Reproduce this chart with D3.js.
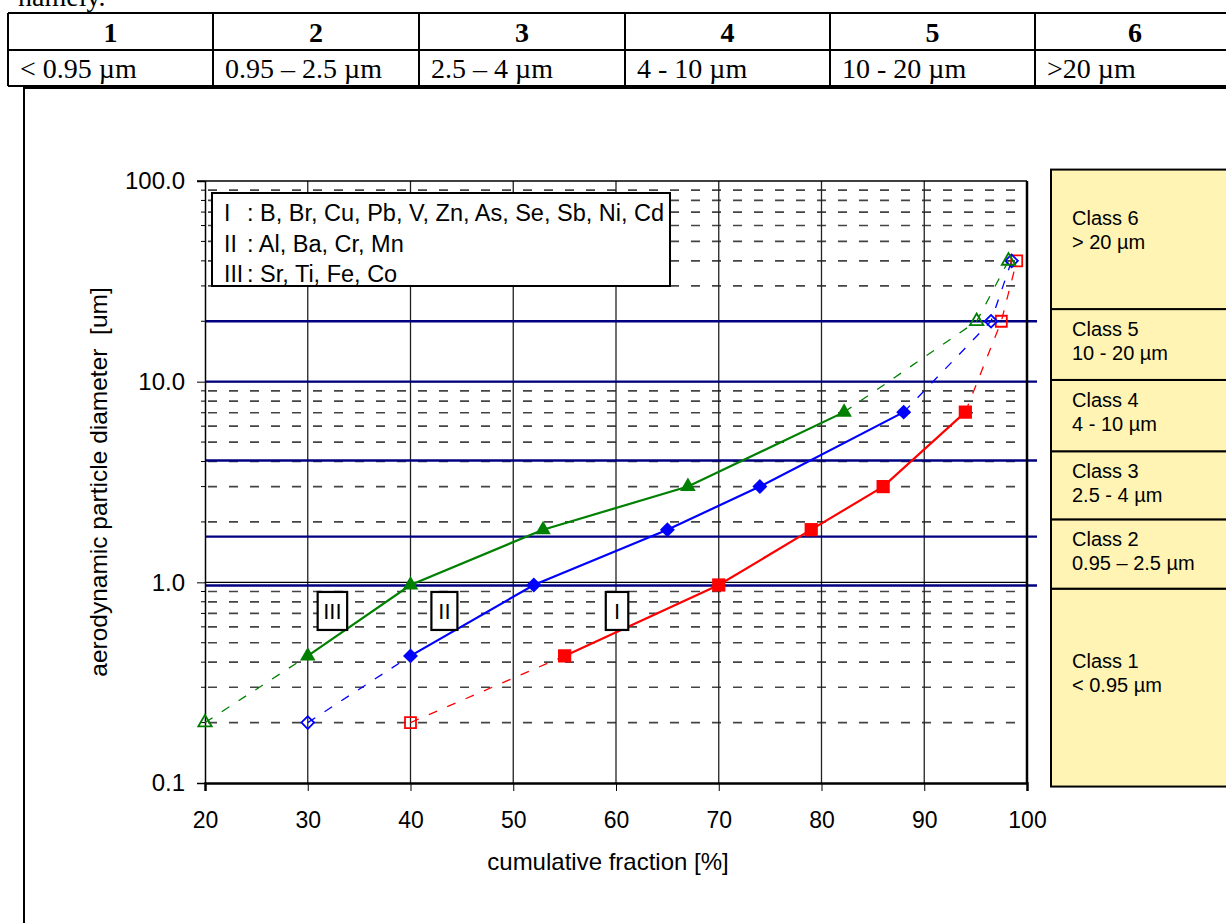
<!DOCTYPE html>
<html><head><meta charset="utf-8">
<script src="https://cdn.jsdelivr.net/npm/d3@7"></script>
<style>body{margin:0;background:#fff;} svg{display:block;} text{white-space:pre;}</style>
</head><body>
<svg id="c" width="1226" height="923"></svg>
<script>
// ---------- data ----------
const tableNumbers = ["1","2","3","4","5","6"];
const tableRanges = ["< 0.95 µm","0.95 – 2.5 µm","2.5 – 4 µm","4 - 10 µm","10 - 20 µm",">20 µm"];
const xTicks = [20,30,40,50,60,70,80,90,100];
const yTicks = [0.1,1,10,100];
const yTickLabels = ["0.1","1.0","10.0","100.0"];
const classLineValues = [0.965,1.69,4.05,10,20];
const classNames = ["Class 1","Class 2","Class 3","Class 4","Class 5","Class 6"];
const classRanges = ["< 0.95 µm","0.95 – 2.5 µm","2.5 - 4 µm","4 - 10 µm","10 - 20 µm","> 20 µm"];
const classEdges = [0.096,0.93,2.06,4.5,10.2,23,114];
const legendNumerals = ["I","II","III"];
const legendElements = [": B, Br, Cu, Pb, V, Zn, As, Se, Sb, Ni, Cd",": Al, Ba, Cr, Mn",": Sr, Ti, Fe, Co"];
const groupLabels = ["I","II","III"];
const groupLabelX = [60.1,43.3,32.4];
const groupLabelY = 0.72;

const diam = [0.43,0.97,1.83,3.0,7.05];      // measured diameters (filled markers)
const diamOpen = [0.2,20,40];                // extrapolated diameters (open markers)
const fracI = [55,70,79,86,94];
const fracIopen = [40,97.5,99];
const fracII = [40,52,65,74,88];
const fracIIopen = [30,96.5,98.5];
const fracIII = [30,40,52.9,67,82.2];
const fracIIIopen = [20,95.1,98.2];

const series = [
  {name:"I", color:"#ff0000", shape:"square", x:fracI, xo:fracIopen},
  {name:"II", color:"#0000ff", shape:"diamond", x:fracII, xo:fracIIopen},
  {name:"III", color:"#008000", shape:"triangle", x:fracIII, xo:fracIIIopen}
];

// ---------- drawing ----------
const svg = d3.select("#c");
const SANS = "'Liberation Sans', Arial, sans-serif";
const SERIF = "'Liberation Serif', 'Times New Roman', serif";

// text fragment above table (cut at the top edge, as in the source page)
svg.append("text").attr("x",18).attr("y",6).attr("font-family",SERIF).attr("font-size",28).text("namely.");

// table
const colX = [8,213,419,625,830,1035,1245];
const rowY = [13,50,86];
const tbl = svg.append("g");
rowY.forEach(y=>tbl.append("line").attr("x1",colX[0]).attr("x2",1226).attr("y1",y).attr("y2",y).attr("stroke","#000").attr("stroke-width",2));
colX.forEach(x=>tbl.append("line").attr("x1",x).attr("x2",x).attr("y1",rowY[0]).attr("y2",rowY[2]).attr("stroke","#000").attr("stroke-width",2));
tableNumbers.forEach((t,i)=>tbl.append("text").attr("x",(colX[i]+colX[i+1])/2 - (i===5?5:0)).attr("y",42)
  .attr("text-anchor","middle").attr("font-family",SERIF).attr("font-weight","bold").attr("font-size",28).text(t));
tableRanges.forEach((t,i)=>tbl.append("text").attr("x",colX[i]+12).attr("y",78)
  .attr("font-family",SERIF).attr("font-size",28).text(t));

// chart frame
svg.append("line").attr("x1",24).attr("x2",1226).attr("y1",88).attr("y2",88).attr("stroke","#000").attr("stroke-width",2);
svg.append("line").attr("x1",24).attr("x2",24).attr("y1",87).attr("y2",923).attr("stroke","#000").attr("stroke-width",2);

// scales
const x = d3.scaleLinear().domain([20,100]).range([205,1027]);
const y = d3.scaleLog().domain([0.1,100]).range([783,181]);
const L = x(20), R = x(100), T = y(100), B = y(0.1);

// class boxes
const cb = svg.append("g");
classNames.forEach((n,i)=>{
  const y0 = y(classEdges[i+1]), y1 = y(classEdges[i]);
  cb.append("rect").attr("x",1051).attr("y",y0).attr("width",200).attr("height",y1-y0)
    .attr("fill","#fff4b3").attr("stroke","#000").attr("stroke-width",2);
  const tall = (y1-y0) > 100;
  const base = tall ? (i===5 ? y0+55 : y0+79) : y0 + 27;
  cb.append("text").attr("x",1072).attr("y",base).attr("font-family",SANS).attr("font-size",20).text(n);
  cb.append("text").attr("x",1072).attr("y",base+24).attr("font-family",SANS).attr("font-size",20).text(classRanges[i]);
});

// minor dashed grid
const minorVals = [];
[0.1,1,10].forEach(d=>{for(let k=2;k<=9;k++) minorVals.push(k*d);});
const grid = svg.append("g");
minorVals.forEach(v=>{
  grid.append("line").attr("x1",L+3).attr("x2",R).attr("y1",y(v)).attr("y2",y(v))
    .attr("stroke","#444").attr("stroke-width",1.7).attr("stroke-dasharray","9,12");
  grid.append("line").attr("x1",L-4).attr("x2",L).attr("y1",y(v)).attr("y2",y(v)).attr("stroke","#000").attr("stroke-width",1);
});
// vertical grid
xTicks.slice(1,-1).forEach(v=>grid.append("line").attr("x1",x(v)).attr("x2",x(v)).attr("y1",T).attr("y2",B).attr("stroke","#222").attr("stroke-width",1.3));
// major horizontal
[1,10].forEach(v=>grid.append("line").attr("x1",L).attr("x2",R).attr("y1",y(v)).attr("y2",y(v)).attr("stroke","#000").attr("stroke-width",1.2));

// class lines (blue)
classLineValues.forEach(v=>grid.append("line").attr("x1",L).attr("x2",1037).attr("y1",y(v)).attr("y2",y(v)).attr("stroke","#000080").attr("stroke-width",2.4));

// axes
const yAxis = d3.axisLeft(y).tickValues(yTicks).tickFormat((d,i)=>yTickLabels[i]).tickSize(8).tickPadding(12);
const gy = svg.append("g").attr("transform",`translate(${L},0)`).call(yAxis);
gy.select(".domain").attr("stroke-width",1.5);
gy.selectAll("text").attr("font-family",SANS).attr("font-size",24).attr("fill","#000");
const xAxis = d3.axisBottom(x).tickValues(xTicks).tickSize(8).tickPadding(21);
const gx = svg.append("g").attr("transform",`translate(0,${B})`).call(xAxis);
gx.select(".domain").attr("stroke-width",2.5);
gx.selectAll("text").attr("font-family",SANS).attr("font-size",23).attr("fill","#000");
svg.append("line").attr("x1",L-8).attr("x2",R).attr("y1",T).attr("y2",T).attr("stroke","#000").attr("stroke-width",1.5);
svg.append("line").attr("x1",R).attr("x2",R).attr("y1",T).attr("y2",B).attr("stroke","#000").attr("stroke-width",2.5);

// axis titles
svg.append("text").attr("x",608).attr("y",870).attr("text-anchor","middle").attr("font-family",SANS).attr("font-size",24).text("cumulative fraction [%]");
svg.append("text").attr("transform",`translate(107,${(T+B)/2}) rotate(-90)`).attr("text-anchor","middle").attr("font-family",SANS).attr("font-size",24.5).text("aerodynamic particle diameter  [um]");

// series lines
const line = d3.line().x(d=>x(d[0])).y(d=>y(d[1]));
const sg = svg.append("g");
series.forEach(s=>{
  const solid = s.x.map((v,i)=>[v,diam[i]]);
  const lowDash = [[s.xo[0],diamOpen[0]],[s.x[0],diam[0]]];
  const highDash = [[s.x[s.x.length-1],diam[diam.length-1]],[s.xo[1],diamOpen[1]],[s.xo[2],diamOpen[2]]];
  [lowDash,highDash].forEach(p=>sg.append("path").attr("d",line(p)).attr("fill","none").attr("stroke",s.color).attr("stroke-width",1.3).attr("stroke-dasharray","9,11"));
  sg.append("path").attr("d",line(solid)).attr("fill","none").attr("stroke",s.color).attr("stroke-width",2.2);
});

// group labels (boxed roman numerals)
groupLabels.forEach((t,i)=>{
  const cx = x(groupLabelX[i]), cy = y(groupLabelY);
  const w = 19 + t.length*3.5;
  svg.append("rect").attr("x",cx-w/2).attr("y",cy-19).attr("width",w).attr("height",38).attr("fill","#fff").attr("stroke","#000").attr("stroke-width",2.2);
  svg.append("text").attr("x",cx).attr("y",cy+8).attr("text-anchor","middle").attr("font-family",SANS).attr("font-size",22).text(t);
});

// markers
const sym = {
  square: {type:d3.symbolSquare, size:175, open:121, rot:0},
  diamond:{type:d3.symbolSquare, size:112, open:80, rot:45},
  triangle:{type:d3.symbolTriangle, size:105, open:78, rot:0}
};
series.forEach(s=>{
  const m = sym[s.shape];
  s.x.forEach((v,i)=>sg.append("path").attr("d",d3.symbol(m.type,m.size)())
    .attr("transform",`translate(${x(v)},${y(diam[i])}) rotate(${m.rot})`).attr("fill",s.color));
  s.xo.forEach((v,i)=>sg.append("path").attr("d",d3.symbol(m.type,m.open)())
    .attr("transform",`translate(${x(v)},${y(diamOpen[i])}) rotate(${m.rot})`).attr("fill","none").attr("stroke",s.color).attr("stroke-width",1.8));
});

// legend
const lg = svg.append("g");
lg.append("rect").attr("x",212).attr("y",193).attr("width",458).attr("height",93).attr("fill","#fff").attr("stroke","#000").attr("stroke-width",2);
legendNumerals.forEach((t,i)=>{
  lg.append("text").attr("x",224).attr("y",221+i*30.5).attr("font-family",SANS).attr("font-size",23).text(t);
  lg.append("text").attr("x",247).attr("y",221+i*30.5).attr("font-family",SANS).attr("font-size",23.5).text(legendElements[i]);
});
lg.append("line").attr("x1",212).attr("x2",670).attr("y1",286).attr("y2",286).attr("stroke","#000").attr("stroke-width",2);
</script>
</body></html>
